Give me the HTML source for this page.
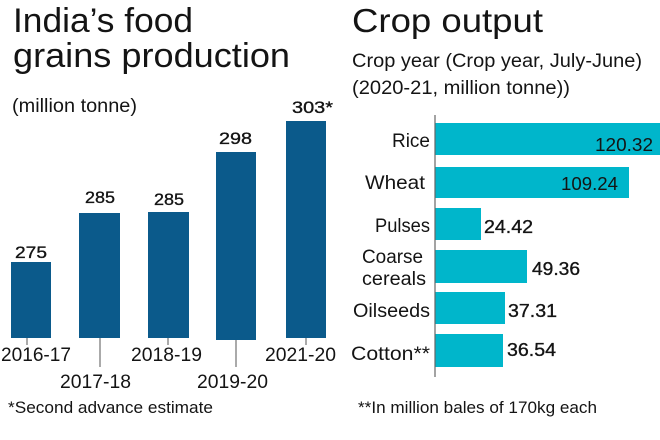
<!DOCTYPE html>
<html><head><meta charset="utf-8"><style>
html,body{margin:0;padding:0;background:#fff;}
svg{display:block;}
text{font-family:"Liberation Sans",sans-serif;fill:#141414;}
.n{stroke:#141414;stroke-width:0.35;}
</style></head><body>
<svg width="660" height="440" viewBox="0 0 660 440" xmlns="http://www.w3.org/2000/svg">
<rect width="660" height="440" fill="#fff"/>
<!-- Left chart -->
<text x="13" y="32" font-size="34" textLength="180" lengthAdjust="spacingAndGlyphs">India’s food</text>
<text x="13" y="67" font-size="34" textLength="277" lengthAdjust="spacingAndGlyphs">grains production</text>
<text x="12" y="112" font-size="19" textLength="125" lengthAdjust="spacingAndGlyphs">(million tonne)</text>

<g fill="#0b5a8b">
<rect x="11" y="262" width="40" height="76"/>
<rect x="79" y="213" width="41" height="125"/>
<rect x="148" y="212" width="41" height="126"/>
<rect x="216" y="152" width="40" height="188"/>
<rect x="286" y="121" width="40" height="217"/>
</g>
<g font-size="17" class="n">
<text x="15" y="258" textLength="32" lengthAdjust="spacingAndGlyphs">275</text>
<text x="85" y="203" textLength="30" lengthAdjust="spacingAndGlyphs">285</text>
<text x="154" y="205" textLength="30" lengthAdjust="spacingAndGlyphs">285</text>
<text x="219" y="144" textLength="33" lengthAdjust="spacingAndGlyphs">298</text>
<text x="292" y="113" textLength="41" lengthAdjust="spacingAndGlyphs">303*</text>
</g>
<g stroke="#555" stroke-width="1">
<line x1="27" y1="338" x2="27" y2="345"/>
<line x1="100" y1="338" x2="100" y2="367"/>
<line x1="168" y1="338" x2="168" y2="345"/>
<line x1="236" y1="340" x2="236" y2="367"/>
<line x1="306" y1="338" x2="306" y2="345"/>
</g>
<g font-size="19">
<text x="1" y="361" textLength="70" lengthAdjust="spacingAndGlyphs">2016-17</text>
<text x="60" y="388" textLength="71" lengthAdjust="spacingAndGlyphs">2017-18</text>
<text x="131" y="361" textLength="71" lengthAdjust="spacingAndGlyphs">2018-19</text>
<text x="197" y="388" textLength="71" lengthAdjust="spacingAndGlyphs">2019-20</text>
<text x="265" y="361" textLength="71" lengthAdjust="spacingAndGlyphs">2021-20</text>
</g>
<text x="8" y="413" font-size="17" textLength="205" lengthAdjust="spacingAndGlyphs">*Second advance estimate</text>

<!-- Right chart -->
<text x="352" y="32" font-size="33" textLength="191" lengthAdjust="spacingAndGlyphs">Crop output</text>
<text x="352" y="67" font-size="19" textLength="290" lengthAdjust="spacingAndGlyphs">Crop year (Crop year, July-June)</text>
<text x="352" y="94" font-size="19" textLength="218" lengthAdjust="spacingAndGlyphs">(2020-21, million tonne))</text>

<g fill="#00b6cb">
<rect x="435" y="123" width="225" height="32"/>
<rect x="435" y="167" width="194" height="31"/>
<rect x="435" y="208" width="46" height="32"/>
<rect x="435" y="250" width="92" height="33"/>
<rect x="435" y="292" width="70" height="32"/>
<rect x="435" y="334" width="68" height="33"/>
</g>
<line x1="435" y1="115" x2="435" y2="377" stroke="#666" stroke-width="1.2"/>

<g font-size="19">
<text x="392" y="147" textLength="38" lengthAdjust="spacingAndGlyphs">Rice</text>
<text x="365" y="189" textLength="60" lengthAdjust="spacingAndGlyphs">Wheat</text>
<text x="375" y="232" textLength="55" lengthAdjust="spacingAndGlyphs">Pulses</text>
<text x="362" y="263" textLength="61" lengthAdjust="spacingAndGlyphs">Coarse</text>
<text x="362" y="285" textLength="64" lengthAdjust="spacingAndGlyphs">cereals</text>
<text x="353" y="317" textLength="77" lengthAdjust="spacingAndGlyphs">Oilseeds</text>
<text x="351" y="360" textLength="79" lengthAdjust="spacingAndGlyphs">Cotton**</text>
</g>
<g font-size="18">
<text x="595" y="151" textLength="58" lengthAdjust="spacingAndGlyphs">120.32</text>
<text x="561" y="190" textLength="57" lengthAdjust="spacingAndGlyphs">109.24</text>
</g>
<g font-size="18" class="n">
<text x="484" y="233" textLength="49" lengthAdjust="spacingAndGlyphs">24.42</text>
<text x="532" y="275" textLength="48" lengthAdjust="spacingAndGlyphs">49.36</text>
<text x="508" y="317" textLength="49" lengthAdjust="spacingAndGlyphs">37.31</text>
<text x="507" y="356" textLength="49" lengthAdjust="spacingAndGlyphs">36.54</text>
</g>
<text x="358" y="413" font-size="17" textLength="239" lengthAdjust="spacingAndGlyphs">**In million bales of 170kg each</text>
</svg>
</body></html>
